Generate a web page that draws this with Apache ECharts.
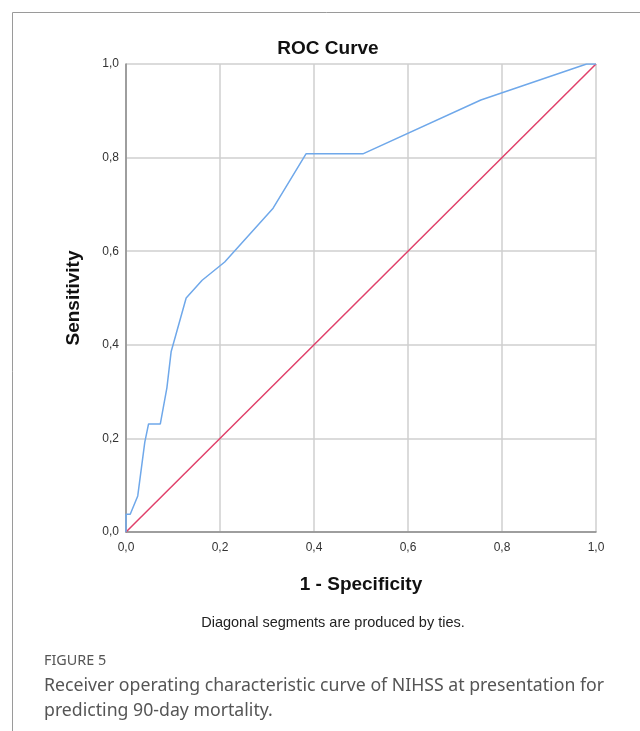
<!DOCTYPE html>
<html>
<head>
<meta charset="utf-8">
<script src="https://cdn.jsdelivr.net/npm/echarts@6/dist/echarts.min.js"></script>
<style>html,body{margin:0;padding:0;background:#fff;}#c{width:640px;height:731px;}</style>
</head>
<body>
<div id="c"></div>
<script>
// ROC curve (1 - specificity, sensitivity)
var rocX = [0, 0, 0.009, 0.025, 0.040, 0.048, 0.073, 0.087, 0.096, 0.128, 0.162, 0.210, 0.313, 0.383, 0.504, 0.755, 0.980, 1.0];
var rocY = [0, 0.038, 0.038, 0.077, 0.192, 0.231, 0.231, 0.308, 0.385, 0.500, 0.538, 0.577, 0.692, 0.808, 0.808, 0.923, 1.0, 1.0];
var refX = [0, 1];
var refY = [0, 1];
var tickValues = [0, 0.2, 0.4, 0.6, 0.8, 1.0];

function pairs(xs, ys) { return xs.map(function (x, i) { return [x, ys[i]]; }); }
function fmt(v) { return v.toFixed(1).replace('.', ','); }

var chart = echarts.init(document.getElementById('c'), null, { renderer: 'canvas' });
var axisCommon = {
  type: 'value', min: 0, max: 1, interval: 0.2,
  axisLine: { show: true, lineStyle: { color: '#8a8a8a', width: 1.5 } },
  axisTick: { show: false },
  splitLine: { show: true, lineStyle: { color: '#cfcfcf', width: 1.5 } },
  axisLabel: { formatter: fmt, color: '#333', fontFamily: 'Liberation Sans, Arial', fontSize: 12 },
  nameLocation: 'middle',
  nameTextStyle: { color: '#111', fontFamily: 'Liberation Sans, Arial', fontSize: 19, fontWeight: 'bold' }
};
chart.setOption({
  animation: false,
  backgroundColor: '#fff',
  title: {
    text: 'ROC Curve', left: 323, top: 34, textAlign: 'center',
    textStyle: { color: '#111', fontFamily: 'Liberation Sans, Arial', fontSize: 19, fontWeight: 'bold' }
  },
  grid: { left: 126, right: 44, top: 64, bottom: 199, containLabel: false },
  xAxis: Object.assign({}, axisCommon, {
    name: '1 - Specificity', nameGap: 43,
    axisLabel: Object.assign({}, axisCommon.axisLabel, { margin: 10 })
  }),
  yAxis: Object.assign({}, axisCommon, {
    name: 'Sensitivity', nameGap: 43,
    axisLabel: Object.assign({}, axisCommon.axisLabel, { margin: 7 })
  }),
  series: [
    { type: 'line', data: pairs(refX, refY), symbol: 'none', lineStyle: { color: '#e0406a', width: 1.5 }, z: 3 },
    { type: 'line', data: pairs(rocX, rocY), symbol: 'none', lineStyle: { color: '#6fa8ea', width: 1.5 }, z: 4 }
  ],
  graphic: [
    { type: 'line', shape: { x1: 12.5, y1: 12.5, x2: 640, y2: 12.5 }, style: { stroke: '#9a9a9a', lineWidth: 1 } },
    { type: 'line', shape: { x1: 12.5, y1: 12.5, x2: 12.5, y2: 731 }, style: { stroke: '#9a9a9a', lineWidth: 1 } },
    { type: 'text', x: 333, y: 623, style: { text: 'Diagonal segments are produced by ties.', fill: '#222', font: '14.5px "Liberation Sans", Arial', textAlign: 'center', textVerticalAlign: 'middle' } },
    { type: 'text', x: 44, y: 661, style: { text: 'FIGURE 5', fill: '#555', font: '14.4px "Noto Sans"', textAlign: 'left', textVerticalAlign: 'middle' } },
    { type: 'text', x: 44, y: 686, style: { text: 'Receiver operating characteristic curve of NIHSS at presentation for', fill: '#555', font: '17.7px "Noto Sans"', textAlign: 'left', textVerticalAlign: 'middle' } },
    { type: 'text', x: 44, y: 711, style: { text: 'predicting 90-day mortality.', fill: '#555', font: '17.7px "Noto Sans"', textAlign: 'left', textVerticalAlign: 'middle' } }
  ]
});
</script>
</body>
</html>
